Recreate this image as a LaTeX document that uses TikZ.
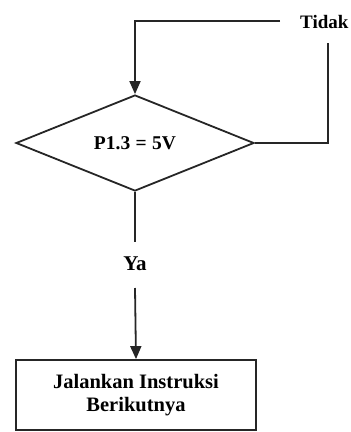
\documentclass[tikz,border=0pt]{standalone}
\usepackage{fontspec}
\setmainfont{Liberation Serif}
\usetikzlibrary{shapes.geometric,arrows.meta}
\begin{document}
\begin{tikzpicture}[x=1pt,y=-1pt,
  line/.style={draw=black!85,line width=1.8pt},
  arr/.style={line,-{Triangle[length=13pt,width=11pt]}},
  decision/.style={diamond,draw=black!85,line width=1.8pt,minimum width=238pt,minimum height=96pt,inner sep=0pt,font=\fontsize{19.5}{22}\selectfont\bfseries},
  process/.style={rectangle,draw=black!85,line width=1.8pt,minimum width=240pt,minimum height=70pt,inner sep=0pt,align=center,font=\fontsize{20.5}{25}\selectfont\bfseries},
  lbl/.style={inner sep=0pt,font=\fontsize{19}{22}\selectfont\bfseries}]
\useasboundingbox (0,0) rectangle (351,432);
\node[decision] (d) at (135,143) {P1.3\;=\;5V};
\node[process] (b) at (136,395) {Jalankan Instruksi\\[-2pt]Berikutnya};
\node[lbl,anchor=west] (tidak) at (300,22) {Tidak};
\node[lbl,font=\fontsize{21}{24}\selectfont\bfseries] (ya) at (135,264) {Ya};
\coordinate (tl) at (280,21);
\coordinate (tc) at (135,21);
\coordinate (rt) at (328,43);
\coordinate (rc) at (328,143);
\coordinate (yb) at (135,242);
\coordinate (yt) at (135,288);
\draw[arr] (tl) -- (tc) -- (d.north);
\draw[line] (d.east) -- (rc) -- (rt);
\draw[line] (d.south) -- (yb);
\draw[arr] (yt) -- (b.north);
\end{tikzpicture}
\end{document}
